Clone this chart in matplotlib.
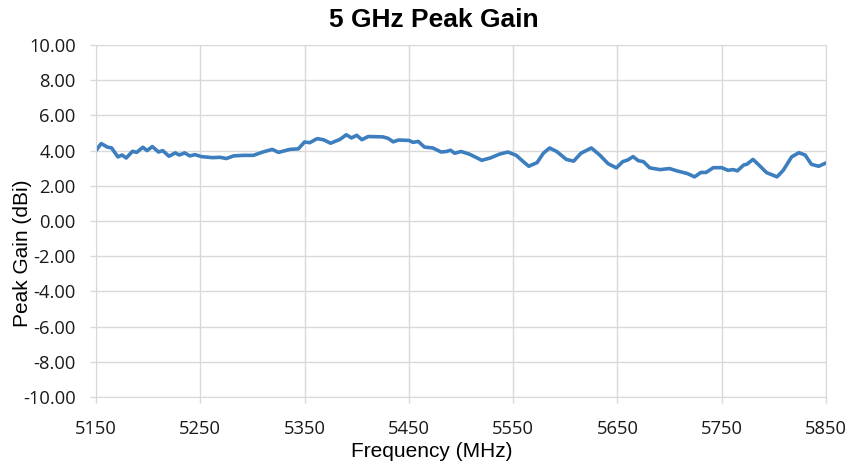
import matplotlib
matplotlib.use("Agg")
import matplotlib.pyplot as plt

freq = [5150, 5155, 5161, 5165, 5171, 5175, 5179, 5185, 5189, 5195, 5199, 5204, 5210, 5214,
        5220, 5226, 5230, 5235, 5240, 5245, 5251, 5262, 5269, 5275, 5282, 5291, 5301, 5310,
        5319, 5325, 5336, 5344, 5350, 5355, 5362, 5368, 5375, 5384, 5390, 5395, 5400, 5405,
        5411, 5425, 5430, 5435, 5440, 5450, 5454, 5459, 5465, 5473, 5481, 5486, 5490, 5494,
        5500, 5508, 5520, 5528, 5537, 5545, 5553, 5560, 5565, 5573, 5579, 5585, 5592, 5601,
        5608, 5615, 5625, 5633, 5641, 5649, 5655, 5660, 5665, 5670, 5675, 5681, 5691, 5700,
        5707, 5717, 5724, 5730, 5735, 5742, 5750, 5756, 5761, 5765, 5771, 5774, 5780, 5785,
        5793, 5803, 5809, 5817, 5824, 5830, 5836, 5843, 5850]
gain = [4.00, 4.40, 4.20, 4.15, 3.64, 3.75, 3.58, 3.96, 3.90, 4.19, 4.00, 4.23, 3.92, 4.00,
        3.68, 3.87, 3.75, 3.87, 3.70, 3.77, 3.66, 3.60, 3.62, 3.55, 3.70, 3.73, 3.73, 3.92,
        4.07, 3.90, 4.07, 4.10, 4.49, 4.45, 4.68, 4.62, 4.42, 4.64, 4.90, 4.72, 4.87, 4.62,
        4.80, 4.78, 4.70, 4.50, 4.60, 4.58, 4.47, 4.52, 4.20, 4.15, 3.92, 3.95, 4.02, 3.85,
        3.95, 3.80, 3.45, 3.58, 3.80, 3.92, 3.73, 3.36, 3.11, 3.32, 3.85, 4.15, 3.94, 3.50,
        3.40, 3.85, 4.15, 3.75, 3.26, 3.02, 3.37, 3.47, 3.66, 3.43, 3.37, 3.02, 2.92, 2.98,
        2.85, 2.70, 2.51, 2.76, 2.76, 3.03, 3.03, 2.88, 2.92, 2.85, 3.18, 3.22, 3.50, 3.22,
        2.75, 2.51, 2.88, 3.64, 3.88, 3.75, 3.22, 3.11, 3.30]

x_ticks = [5150, 5250, 5350, 5450, 5550, 5650, 5750, 5850]
y_ticks = [-10, -8, -6, -4, -2, 0, 2, 4, 6, 8, 10]

plt.rcParams['font.family'] = ['Liberation Sans', 'DejaVu Sans']

fig = plt.figure(figsize=(8.67, 4.63), dpi=100)
ax = fig.add_axes([0.1107, 0.1425, 0.842, 0.7603])

ax.plot(freq, gain, color='#3d7ebf', linewidth=2.6, solid_joinstyle='round', solid_capstyle='round')

ax.set_xlim(5150, 5850)
ax.set_ylim(-10, 10)
ax.set_xticks(x_ticks)
ax.set_yticks(y_ticks)
ax.set_yticklabels([f"{v:.2f}" for v in y_ticks])
ax.grid(True, color='#d9d9d9', linewidth=1)
ax.set_axisbelow(True)
for s in ax.spines.values():
    s.set_color('#d9d9d9')
ax.tick_params(length=4.5, width=1, color='#d9d9d9', labelcolor='#1a1a1a')
ax.tick_params(axis='x', pad=12)
ax.tick_params(axis='y', pad=10)
for lab in ax.get_xticklabels() + ax.get_yticklabels():
    lab.set_fontfamily(['Open Sans', 'DejaVu Sans'])
    lab.set_fontsize(13.2)

fig.text(0.5, 1 - 27 / 463, '5 GHz Peak Gain', fontsize=19, fontweight='bold',
         ha='center', va='baseline')
ax.set_xlabel('Frequency (MHz)', fontsize=15)
ax.set_ylabel('Peak Gain (dBi)', fontsize=15)
ax.xaxis.set_label_coords((432 - 96) / 730, (397 - 457) / 352)
ax.xaxis.label.set_va('baseline')
ax.yaxis.set_label_coords((32 - 96) / 730, (397 - 253) / 352)

fig.savefig('out.png', dpi=100)
